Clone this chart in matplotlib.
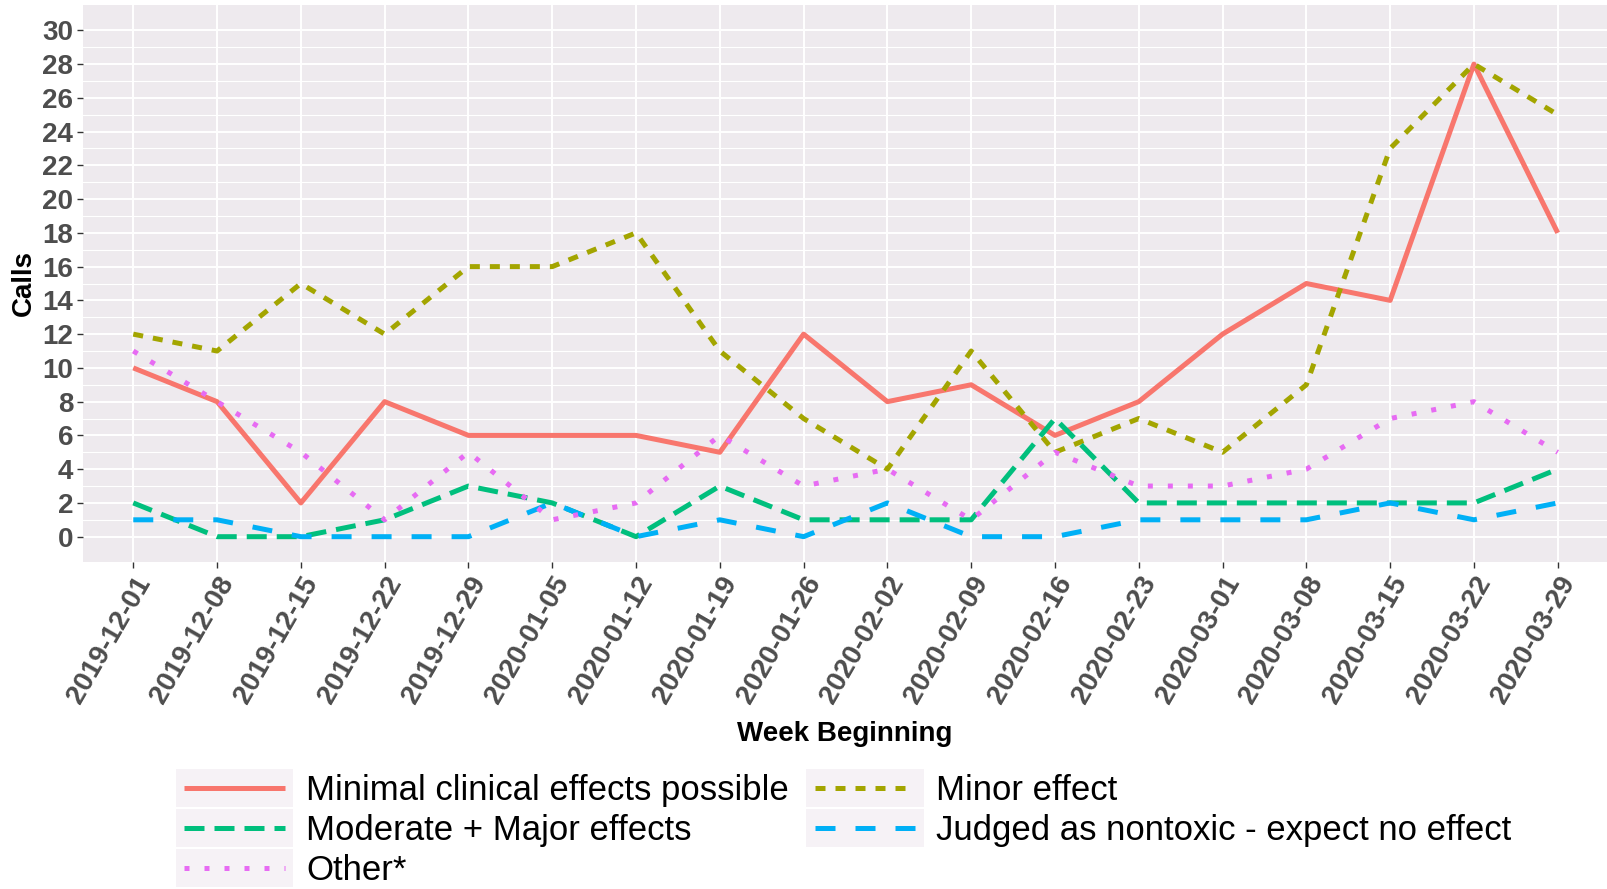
import numpy as np
import matplotlib
matplotlib.use("Agg")
import matplotlib.pyplot as plt
from matplotlib.legend_handler import HandlerLine2D
from matplotlib.patches import Rectangle

plt.rcParams["font.family"] = ["Liberation Sans", "DejaVu Sans"]

weeks = ["2019-12-01", "2019-12-08", "2019-12-15", "2019-12-22", "2019-12-29",
         "2020-01-05", "2020-01-12", "2020-01-19", "2020-01-26", "2020-02-02",
         "2020-02-09", "2020-02-16", "2020-02-23", "2020-03-01", "2020-03-08",
         "2020-03-15", "2020-03-22", "2020-03-29"]
minimal = [10, 8, 2, 8, 6, 6, 6, 5, 12, 8, 9, 6, 8, 12, 15, 14, 28, 18]
minor = [12, 11, 15, 12, 16, 16, 18, 11, 7, 4, 11, 5, 7, 5, 9, 23, 28, 25]
moderate = [2, 0, 0, 1, 3, 2, 0, 3, 1, 1, 1, 7, 2, 2, 2, 2, 2, 4]
nontoxic = [1, 1, 0, 0, 0, 2, 0, 1, 0, 2, 0, 0, 1, 1, 1, 2, 1, 2]
other = [11, 8, 5, 1, 5, 1, 2, 6, 3, 4, 1, 5, 3, 3, 4, 7, 8, 5]

PANEL = "#EEEAEE"
KEYBG = "#F6F2F6"
LW = 3.6


class KeyHandler(HandlerLine2D):
    # line legend key drawn on a light box, like ggplot
    def create_artists(self, legend, orig_handle, xdescent, ydescent,
                       width, height, fontsize, trans):
        bg = Rectangle((-xdescent - 6, -ydescent - 5), width + 12, height + 10,
                       facecolor=KEYBG, edgecolor="none", transform=trans)
        arts = super().create_artists(legend, orig_handle, xdescent, ydescent,
                                      width, height, fontsize, trans)
        return [bg] + list(arts)


fig = plt.figure(figsize=(16.08, 8.89), dpi=100)
ax = fig.add_axes([83 / 1608, 1 - 562 / 889, 1525 / 1608, 557 / 889])
ax.set_facecolor(PANEL)
x = np.arange(len(weeks))

h_min, = ax.plot(x, minimal, color="#F8766D", lw=LW, solid_capstyle="butt",
                 label="Minimal clinical effects possible")
h_minor, = ax.plot(x, minor, color="#A3A500", lw=LW, dashes=(2, 2),
                   label="Minor effect")
h_mod, = ax.plot(x, moderate, color="#00BF7D", lw=LW, dashes=(4, 2),
                 label="Moderate + Major effects")
h_non, = ax.plot(x, nontoxic, color="#00B0F6", lw=LW, dashes=(4, 4),
                 label="Judged as nontoxic - expect no effect")
h_oth, = ax.plot(x, other, color="#E76BF3", lw=LW, dashes=(1, 3),
                 label="Other*")

ax.set_xlim(-0.6, len(weeks) - 0.4)
ax.set_ylim(-1.5, 31.5)
ax.set_xticks(x)
ax.set_xticklabels(weeks, rotation=60, ha="right", rotation_mode="anchor")
ax.set_yticks(np.arange(0, 31, 2))
ax.set_yticks(np.arange(1, 31, 2), minor=True)
ax.grid(which="major", color="white", lw=1.4)
ax.grid(which="minor", axis="y", color="white", lw=0.8)
ax.set_axisbelow(True)
for s in ax.spines.values():
    s.set_visible(False)
ax.tick_params(which="major", length=4, width=1, color="#333333",
               labelsize=20, labelcolor="#4D4D4D", pad=3)
ax.tick_params(which="minor", length=0)
for lab in ax.get_xticklabels() + ax.get_yticklabels():
    lab.set_fontweight("bold")

ax.set_ylabel("Calls", fontsize=20, fontweight="bold", labelpad=4)
fig.text(845 / 1608, 1 - 734 / 889, "Week Beginning", fontsize=20,
         fontweight="bold", ha="center", va="center")

handles = [h_min, h_mod, h_oth, h_minor, h_non]
fig.legend(handles=handles, labels=[h.get_label() for h in handles],
           ncol=2, loc="upper left", bbox_to_anchor=(167 / 1608, 1 - 757 / 889),
           frameon=False, fontsize=25, handlelength=2.9, handletextpad=0.6,
           columnspacing=0.75, labelspacing=0.2, borderpad=0,
           handler_map={matplotlib.lines.Line2D: KeyHandler()})

fig.savefig("out.png", dpi=100)
